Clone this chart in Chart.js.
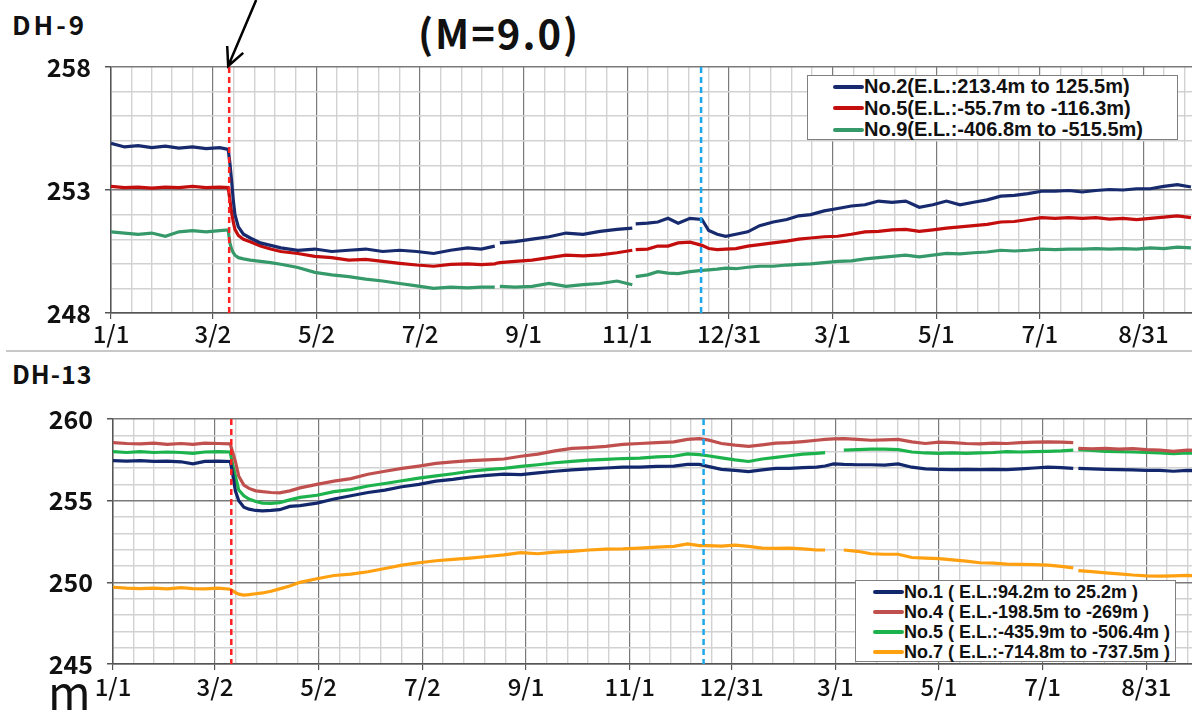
<!DOCTYPE html>
<html>
<head>
<meta charset="utf-8">
<script src="https://cdn.jsdelivr.net/npm/chart.js@4.4.1/dist/chart.umd.min.js"></script>
<style>
    body { margin: 0; width: 1192px; height: 711px; overflow: hidden; position: relative; background: #fff; }
    .panel { position: absolute; left: 0; }
    .label { position: absolute; color: #111; white-space: nowrap; line-height: 1; font-family: "Noto Sans CJK JP", "Noto Sans", sans-serif; }
    .legend { position: absolute; background: #fff; border: 1px solid #7f7f7f; box-sizing: border-box;
              font-family: "Liberation Sans", Arial, sans-serif; font-weight: bold; color: #111; }
    .legend .row { display: flex; align-items: center; white-space: nowrap; }
    .legend .swatch { display: inline-block; width: 31px; height: 4px; border-radius: 2px; }
    .sep { position: absolute; left: 6px; top: 350px; width: 1200px; height: 0; border-top: 2px solid #c8c8c8; }
</style>
</head>
<body>

<div class="label" style="left:12px; top:11px; font-size:26px; font-weight:bold; letter-spacing:3px;">DH-9</div>
<div class="label" style="left:418px; top:12px; font-size:40px; font-weight:bold; letter-spacing:2px;">(M=9.0)</div>
<div class="panel" style="top:0; width:1252px; height:350px;"><canvas id="chart-dh9" width="1252" height="350"></canvas></div>
<div class="legend" id="legend-dh9" style="left:807px; top:75px; width:371px; height:65px; padding-left:25px; font-size:20px;"></div>

<div class="sep"></div>

<div class="label" style="left:12px; top:361px; font-size:25px; font-weight:bold; letter-spacing:1px;">DH-13</div>
<div class="panel" style="top:352px; width:1256px; height:359px;"><canvas id="chart-dh13" width="1256" height="359"></canvas></div>
<div class="legend" id="legend-dh13" style="left:855px; top:580px; width:321px; height:82px; padding-left:17px; padding-top:1px; font-size:18px;"></div>
<div class="label" style="left:48px; top:667px; font-size:46px;">m</div>

<script>
// Days counted from 2011-01-01 (day 0)
const majorTickDays = [0, 60, 121, 182, 243, 304, 364, 425, 486, 547, 608, 669];
const majorTickLabels = ['1/1', '3/2', '5/2', '7/2', '9/1', '11/1', '12/31', '3/1', '5/1', '7/1', '8/31', ''];
const eventDays = [69.6, 347.5];   // 2011-03-11 quake (M=9.0), mid-December event
const eventColors = ['#ff2020', '#1ea7e8'];

// ---- DH-9 ----
const daysTop = [0, 8, 16, 24, 32, 40, 48, 56, 64,
    69, 70, 71, 72, 73, 75, 78, 82, 88, 94,
    100, 110, 120, 130, 140, 150, 160, 170, 180, 190,
    200, 210, 218, 226, 227, 229, 238, 248, 258, 268,
    278, 288, 298, 307, 308, 309, 316, 322, 328, 334,
    341, 348, 352, 357, 362, 368, 375, 382, 390, 398,
    405, 412, 420, 428, 436, 444, 452, 460, 468, 476,
    484, 492, 500, 508, 516, 524, 532, 540, 548, 556,
    564, 572, 580, 588, 596, 604, 612, 620, 628, 636];

const no2Top = [254.9, 254.75, 254.8, 254.72, 254.78, 254.7, 254.75, 254.68, 254.72,
    254.65, 254.1, 253.4, 252.6, 252.0, 251.5, 251.2, 251.05, 250.85, 250.75,
    250.65, 250.55, 250.6, 250.5, 250.55, 250.6, 250.5, 250.55, 250.5, 250.42,
    250.55, 250.65, 250.6, 250.72, null, 250.85, 250.9, 251.0, 251.1, 251.25,
    251.2, 251.32, 251.4, 251.45, null, 251.62, 251.65, 251.7, 251.85, 251.65,
    251.85, 251.8, 251.35, 251.2, 251.12, 251.2, 251.3, 251.55, 251.7, 251.8,
    251.95, 252.0, 252.15, 252.25, 252.35, 252.4, 252.55, 252.5, 252.55, 252.3,
    252.4, 252.55, 252.4, 252.5, 252.6, 252.75, 252.78, 252.85, 252.95, 252.95,
    252.98, 252.92, 252.98, 253.02, 253.0, 253.05, 253.05, 253.15, 253.22, 253.12];

const no5Top = [253.15, 253.1, 253.12, 253.08, 253.12, 253.1, 253.15, 253.1, 253.12,
    253.1, 252.6, 252.1, 251.7, 251.4, 251.15, 251.0, 250.9, 250.72, 250.6,
    250.5, 250.42, 250.3, 250.25, 250.15, 250.18, 250.1, 250.02, 249.95, 249.9,
    249.98, 250.0, 249.97, 250.0, 250.02, 250.05, 250.1, 250.15, 250.25, 250.35,
    250.32, 250.36, 250.45, 250.55, null, 250.58, 250.6, 250.72, 250.72, 250.85,
    250.88, 250.75, 250.62, 250.58, 250.6, 250.62, 250.72, 250.78, 250.85, 250.92,
    251.0, 251.05, 251.1, 251.12, 251.2, 251.3, 251.32, 251.38, 251.4, 251.32,
    251.38, 251.45, 251.5, 251.55, 251.6, 251.7, 251.72, 251.8, 251.88, 251.85,
    251.88, 251.85, 251.88, 251.82, 251.85, 251.8, 251.85, 251.9, 251.95, 251.88];

const no9Top = [251.3, 251.25, 251.2, 251.25, 251.12, 251.3, 251.35, 251.3, 251.35,
    251.38, 250.85, 250.6, 250.45, 250.35, 250.25, 250.2, 250.15, 250.1, 250.05,
    249.98, 249.85, 249.65, 249.55, 249.48, 249.38, 249.3, 249.2, 249.1, 249.0,
    249.05, 249.02, 249.05, 249.05, null, 249.08, 249.05, 249.08, 249.2, 249.08,
    249.15, 249.2, 249.3, 249.15, null, 249.48, 249.55, 249.68, 249.62, 249.6,
    249.68, 249.73, 249.75, 249.78, 249.82, 249.8, 249.86, 249.9, 249.9, 249.95,
    249.98, 250.0, 250.05, 250.1, 250.12, 250.2, 250.25, 250.3, 250.35, 250.28,
    250.35, 250.42, 250.4, 250.45, 250.48, 250.55, 250.52, 250.55, 250.6, 250.58,
    250.6, 250.6, 250.62, 250.6, 250.62, 250.6, 250.65, 250.62, 250.68, 250.65];

// ---- DH-13 ----
const daysBottom = [0, 8, 16, 24, 32, 40, 47, 54, 62, 69,
    70, 72, 74, 77, 80, 84, 88, 93, 98, 104,
    110, 120, 130, 140, 150, 160, 170, 180, 190, 200,
    210, 220, 230, 240, 250, 260, 270, 280, 290, 300,
    310, 320, 330, 338, 345, 350, 358, 366, 374, 382,
    390, 398, 406, 414, 419, 424, 430, 438, 446, 454,
    462, 470, 478, 486, 494, 502, 510, 518, 526, 534,
    542, 550, 558, 565, 566, 568, 576, 584, 592, 600,
    608, 616, 624, 632, 640];

const no1Bottom = [257.45, 257.42, 257.45, 257.4, 257.42, 257.38, 257.25, 257.4, 257.42, 257.4,
    256.9, 255.6, 255.0, 254.6, 254.48, 254.4, 254.38, 254.4, 254.45, 254.65,
    254.7, 254.85, 255.1, 255.3, 255.5, 255.65, 255.85, 256.0, 256.2, 256.3,
    256.45, 256.55, 256.62, 256.6, 256.7, 256.8, 256.88, 256.95, 257.0, 257.05,
    257.05, 257.1, 257.12, 257.22, 257.22, 257.1, 256.92, 256.85, 256.78, 256.88,
    256.98, 256.98, 257.02, 257.05, 257.12, 257.25, 257.22, 257.2, 257.2, 257.18,
    257.25, 257.05, 256.95, 256.92, 256.9, 256.92, 256.9, 256.92, 256.9, 256.95,
    257.0, 257.05, 257.02, 256.98, null, 256.98, 256.95, 256.92, 256.9, 256.88,
    256.85, 256.86, 256.8, 256.86, 256.84];

const no4Bottom = [258.55, 258.5, 258.48, 258.52, 258.45, 258.5, 258.45, 258.52, 258.5, 258.48,
    258.1, 257.4, 256.5, 255.95, 255.75, 255.6, 255.55, 255.5, 255.48, 255.6,
    255.78, 256.0, 256.2, 256.35, 256.62, 256.8, 256.98, 257.12, 257.28, 257.38,
    257.45, 257.5, 257.55, 257.72, 257.85, 258.05, 258.2, 258.25, 258.32, 258.45,
    258.5, 258.55, 258.6, 258.75, 258.8, 258.72, 258.5, 258.4, 258.32, 258.42,
    258.52, 258.55, 258.62, 258.7, 258.75, 258.78, 258.8, 258.75, 258.7, 258.72,
    258.75, 258.6, 258.5, 258.58, 258.55, 258.5, 258.48, 258.52, 258.5, 258.55,
    258.58, 258.6, 258.58, 258.55, null, 258.2, 258.18, 258.2, 258.15, 258.18,
    258.12, 258.1, 258.02, 258.1, 258.08];

const no5Bottom = [258.0, 257.95, 258.0, 257.95, 257.98, 257.95, 257.9, 257.98, 258.0, 257.98,
    257.4, 256.5, 255.65, 255.3, 255.1, 254.95, 254.85, 254.84, 254.88, 255.05,
    255.2, 255.33, 255.55, 255.68, 255.9, 256.05, 256.22, 256.38, 256.52, 256.65,
    256.8, 256.9, 256.98, 257.1, 257.2, 257.32, 257.4, 257.48, 257.53, 257.58,
    257.6, 257.68, 257.72, 257.86, 257.82, 257.75, 257.62, 257.5, 257.4, 257.55,
    257.65, 257.75, 257.85, 257.9, 257.94, null, 258.1, 258.12, 258.15, 258.15,
    258.12, 257.98, 257.92, 257.9, 257.92, 257.9, 257.92, 257.95, 258.0, 257.98,
    258.0, 258.02, 258.05, 258.1, null, 258.12, 258.08, 258.02, 258.0, 257.98,
    257.95, 257.92, 257.88, 257.92, 257.9];

const no7Bottom = [249.7, 249.65, 249.62, 249.65, 249.6, 249.68, 249.62, 249.6, 249.65, 249.58,
    249.5, 249.38, 249.28, 249.22, 249.25, 249.3, 249.35, 249.45, 249.6, 249.78,
    250.0, 250.22, 250.42, 250.5, 250.65, 250.85, 251.05, 251.2, 251.32, 251.4,
    251.48, 251.58, 251.68, 251.82, 251.75, 251.85, 251.9, 251.98, 252.03, 252.05,
    252.1, 252.15, 252.2, 252.35, 252.25, 252.25, 252.22, 252.28, 252.2, 252.1,
    252.08, 252.1, 252.05, 251.98, 251.98, null, 251.98, 251.9, 251.75, 251.72,
    251.72, 251.52, 251.48, 251.45, 251.38, 251.3, 251.2, 251.18, 251.12, 251.1,
    251.08, 251.05, 250.98, 250.88, null, 250.72, 250.65, 250.58, 250.52, 250.45,
    250.4, 250.38, 250.4, 250.42, 250.38];

const GRID_MAJOR = '#7a7a7a';
const GRID_MINOR = '#d2d2d2';
const TICK_FONT = '"Noto Sans CJK JP", "Noto Sans", sans-serif';

// Major ticks plus 4 minor ticks between each pair of majors
function buildXTicks() {
    const ticks = [];
    for (let i = 0; i < majorTickDays.length; i++) {
        ticks.push({ value: majorTickDays[i], label: majorTickLabels[i] });
        if (i < majorTickDays.length - 1) {
            const step = (majorTickDays[i + 1] - majorTickDays[i]) / 5;
            for (let k = 1; k < 5; k++) {
                ticks.push({ value: majorTickDays[i] + k * step, label: '' });
            }
        }
    }
    return ticks;
}

const isMajorX = (v) => majorTickDays.includes(v);

// Dashed event lines and the arrow pointing at the quake
const eventLinesPlugin = {
    id: 'eventLines',
    afterDatasetsDraw(chart, args, opts) {
        const { ctx, chartArea, scales: { x } } = chart;
        ctx.save();
        ctx.lineWidth = 2.5;
        ctx.setLineDash([6, 4]);
        eventDays.forEach((d, i) => {
            const px = x.getPixelForValue(d);
            ctx.strokeStyle = eventColors[i];
            ctx.beginPath();
            ctx.moveTo(px, chartArea.top);
            ctx.lineTo(px, chartArea.bottom);
            ctx.stroke();
        });
        if (opts.arrow) {
            const tipX = x.getPixelForValue(eventDays[0]) - 1;
            const tipY = chartArea.top - 1;
            const startX = tipX + 28, startY = 0;
            const ang = Math.atan2(tipY - startY, tipX - startX);
            ctx.setLineDash([]);
            ctx.strokeStyle = '#000';
            ctx.lineWidth = 2.5;
            ctx.beginPath();
            ctx.moveTo(startX, startY);
            ctx.lineTo(tipX, tipY);
            ctx.moveTo(tipX - 20 * Math.cos(ang - 0.45), tipY - 20 * Math.sin(ang - 0.45));
            ctx.lineTo(tipX, tipY);
            ctx.lineTo(tipX - 20 * Math.cos(ang + 0.45), tipY - 20 * Math.sin(ang + 0.45));
            ctx.stroke();
        }
        ctx.restore();
    }
};

function makeSeries(days, values) {
    return days.map((d, i) => ({ x: d, y: values[i] }));
}

function makePanel(canvasId, legendId, cfg) {
    const isMajorY = (v) => (v - cfg.yMin) % 5 === 0;

    const datasets = cfg.series.map(s => ({
        label: s.label,
        data: makeSeries(cfg.days, s.values),
        borderColor: s.color,
        backgroundColor: s.color,
        borderWidth: 3.2,
        pointRadius: 0,
        tension: 0,
        spanGaps: false
    }));

    new Chart(document.getElementById(canvasId), {
        type: 'line',
        data: { datasets },
        plugins: [eventLinesPlugin],
        options: {
            responsive: false,
            animation: false,
            events: [],
            layout: { padding: { top: 67, right: cfg.padRight, left: 0, bottom: 0 } },
            plugins: {
                legend: { display: false },
                tooltip: { enabled: false },
                eventLines: { arrow: cfg.arrow }
            },
            scales: {
                x: {
                    type: 'linear',
                    min: 0,
                    max: 669,
                    afterBuildTicks: (scale) => { scale.ticks = buildXTicks(); },
                    afterFit: (scale) => { scale.height = cfg.xAxisHeight; },
                    ticks: {
                        autoSkip: false,
                        maxRotation: 0,
                        minRotation: 0,
                        padding: cfg.xPad,
                        color: '#111',
                        font: { family: TICK_FONT, size: 24, weight: '500' },
                        callback: (value, index, ticks) => ticks[index].label || ''
                    },
                    grid: {
                        color: (c) => (c.tick && isMajorX(c.tick.value)) ? GRID_MAJOR : GRID_MINOR,
                        lineWidth: (c) => (c.tick && isMajorX(c.tick.value)) ? 1.2 : 1.4,
                        tickLength: 6,
                        tickColor: (c) => (c.tick && isMajorX(c.tick.value)) ? '#555' : 'rgba(0,0,0,0)'
                    },
                    border: { color: '#555', width: 1.5 }
                },
                y: {
                    min: cfg.yMin,
                    max: cfg.yMax,
                    afterBuildTicks: (scale) => {
                        const ticks = [];
                        for (let v = cfg.yMin; v <= cfg.yMax; v++) ticks.push({ value: v });
                        scale.ticks = ticks;
                    },
                    afterFit: (scale) => { scale.width = cfg.yAxisWidth; },
                    ticks: {
                        autoSkip: false,
                        padding: 14,
                        color: '#111',
                        font: { family: TICK_FONT, size: 25, weight: 'bold' },
                        callback: (value) => isMajorY(value) ? value : ''
                    },
                    grid: {
                        color: (c) => (c.tick && isMajorY(c.tick.value)) ? GRID_MAJOR : GRID_MINOR,
                        lineWidth: (c) => (c.tick && isMajorY(c.tick.value)) ? 1.5 : 1.4,
                        tickLength: 6,
                        tickColor: (c) => (c.tick && isMajorY(c.tick.value)) ? '#555' : 'rgba(0,0,0,0)'
                    },
                    border: { color: '#555', width: 1.5 }
                }
            }
        }
    });

    // HTML legend built from the datasets
    const legend = document.getElementById(legendId);
    datasets.forEach(ds => {
        const row = document.createElement('div');
        row.className = 'row';
        row.style.height = cfg.legendRow + 'px';
        const sw = document.createElement('span');
        sw.className = 'swatch';
        sw.style.background = ds.borderColor;
        const txt = document.createElement('span');
        txt.textContent = ds.label;
        row.appendChild(sw);
        row.appendChild(txt);
        legend.appendChild(row);
    });
}

makePanel('chart-dh9', 'legend-dh9', {
    days: daysTop,
    yMin: 248, yMax: 258,
    yAxisWidth: 111, xAxisHeight: 37, xPad: 0, padRight: 5,
    arrow: true, legendRow: 21.5,
    series: [
        { label: 'No.2(E.L.:213.4m to 125.5m)', values: no2Top, color: '#172a6e' },
        { label: 'No.5(E.L.:-55.7m to -116.3m)', values: no5Top, color: '#c40d0d' },
        { label: 'No.9(E.L.:-406.8m to -515.5m)', values: no9Top, color: '#35996a' }
    ]
});

makePanel('chart-dh13', 'legend-dh13', {
    days: daysBottom,
    yMin: 245, yMax: 260,
    yAxisWidth: 113, xAxisHeight: 47, xPad: 2, padRight: 6,
    arrow: false, legendRow: 20,
    series: [
        { label: 'No.1 ( E.L.:94.2m to 25.2m )', values: no1Bottom, color: '#13286c' },
        { label: 'No.4 ( E.L.-198.5m to -269m )', values: no4Bottom, color: '#c0504d' },
        { label: 'No.5 ( E.L.:-435.9m to -506.4m )', values: no5Bottom, color: '#1db34c' },
        { label: 'No.7 ( E.L.:-714.8m to -737.5m )', values: no7Bottom, color: '#ffa010' }
    ]
});
</script>
</body>
</html>
